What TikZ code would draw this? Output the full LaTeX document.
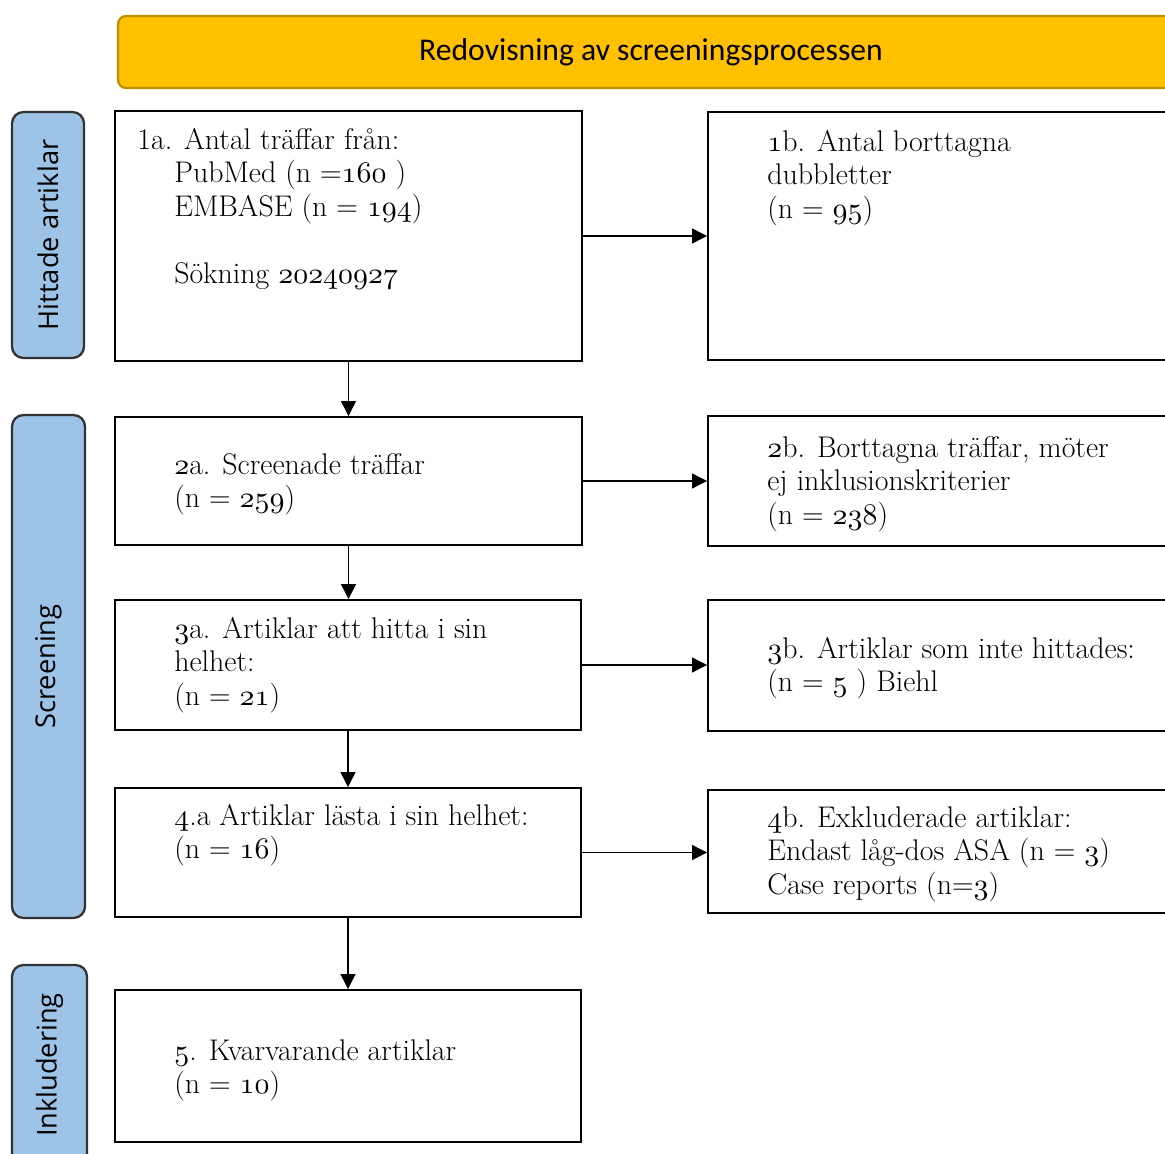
\documentclass[tikz,border=0pt]{standalone}
\usepackage{fontspec}
\newfontfamily\hdrfont{Carlito}
\newfontfamily\sidefont{Open Sans}
\usetikzlibrary{arrows.meta,fit}

% math letters at any size, for the old style figures
\DeclareFontShape{OML}{cmm}{m}{it}{<->cmmi10}{\skewchar\font127}

\definecolor{hdrgold}{HTML}{FFC000}
\definecolor{hdredge}{HTML}{BF9000}
\definecolor{sideblue}{HTML}{9DC3E6}
\definecolor{sideedge}{HTML}{333333}

% old style figures, taken from the math letters font
\newcommand\osn[1]{$\mathnormal{#1}$}

\tikzset{
  fbox/.style={draw, line width=1.1pt, inner sep=0pt},
  txt/.style={align=left, inner sep=0pt, anchor=base west, font=\fontsize{17}{19}\selectfont},
  hdr/.style={draw=hdredge, fill=hdrgold, line width=1.3pt, rounded corners=4.5pt,
    font=\hdrfont\fontsize{18}{20}\selectfont},
  side/.style={draw=sideedge, fill=sideblue, line width=1.3pt, rounded corners=6.5pt,
    rotate=90, font=\sidefont\fontsize{15.5}{18}\selectfont},
  arr/.style={line width=0.7pt, -{Triangle[length=8.5pt,width=8.5pt]}}
}

\begin{document}
\begin{tikzpicture}[x=0.02cm, y=-0.02cm]
  \useasboundingbox (0,0) rectangle (1165,1153);
  \clip (0,0) rectangle (1165,1153);

  % header and phase labels
  \node[hdr, minimum width=21.32cm, minimum height=1.44cm] (head) at (651,52)
    {Redovisning av screeningsprocessen};
  \node[side, minimum width=4.92cm, minimum height=1.44cm] (s1) at (48,235) {Hittade artiklar};
  \node[side, minimum width=10.06cm, minimum height=1.46cm] (s2) at (48.5,666.5) {Screening};
  \node[side, minimum width=4cm, minimum height=1.5cm] (s3) at (49.5,1065) {Inkludering};

  % boxes
  \node[fbox, fit={(115,111) (582,361)}] (f1a) {};
  \node[fbox, fit={(708,112) (1175,360)}] (f1b) {};
  \node[fbox, fit={(115,417) (582,545)}] (f2a) {};
  \node[fbox, fit={(708,416) (1175,546)}] (f2b) {};
  \node[fbox, fit={(115,600) (581,730)}] (f3a) {};
  \node[fbox, fit={(708,600) (1175,731)}] (f3b) {};
  \node[fbox, fit={(115,788) (581,917)}] (f4a) {};
  \node[fbox, fit={(708,790) (1175,913)}] (f4b) {};
  \node[fbox, fit={(115,990) (581,1142)}] (f5) {};

  % texts (anchored at the baseline of the last line)
  \node[txt] (t1a) at (137,283) {1a. Antal träffar från:\\
    \hspace*{21pt}PubMed (n =\osn{160} )\\
    \hspace*{21pt}EMBASE (n = \osn{194})\\[19pt]
    \hspace*{21pt}Sökning \osn{20240927}};
  \node[txt] (t1b) at (767,218) {\osn{1}b. Antal borttagna\\ dubbletter\\ (n = \osn{95})};
  \node[txt] (t2a) at (174,507.5) {\osn{2}a. Screenade träffar\\ (n = \osn{259})};
  \node[txt] (t2b) at (767,524) {\osn{2}b. Borttagna träffar, möter\\ ej inklusionskriterier\\ (n = \osn{238})};
  \node[txt] (t3a) at (174,705) {\osn{3}a. Artiklar att hitta i sin\\ helhet:\\ (n = \osn{21})};
  \node[txt] (t3b) at (767,691.5) {\osn{3}b. Artiklar som inte hittades:\\ (n = \osn{5} ) Biehl};
  \node[txt] (t4a) at (174,858.5) {\osn{4}.a Artiklar lästa i sin helhet:\\ (n = \osn{16})};
  \node[txt] (t4b) at (767,894) {\osn{4}b. Exkluderade artiklar:\\ Endast låg-dos ASA (n = \osn{3})\\ Case reports (n=\osn{3})};
  \node[txt] (t5) at (174,1093.5) {\osn{5}. Kvarvarande artiklar\\ (n = \osn{10})};

  % connectors
  \draw[arr] (f1a) -- (f1b);
  \draw[arr] (f2a) -- (f2b);
  \draw[arr] (f3a.east) -- (f3a.east -| f3b.west);
  \draw[arr] (f4a.east) -- (f4a.east -| f4b.west);
  \draw[arr] (f1a) -- (f2a);
  \draw[arr] (f2a.south) -- (f2a.south |- f3a.north);
  \draw[arr] (f3a) -- (f4a);
  \draw[arr] (f4a) -- (f5);
\end{tikzpicture}
\end{document}
